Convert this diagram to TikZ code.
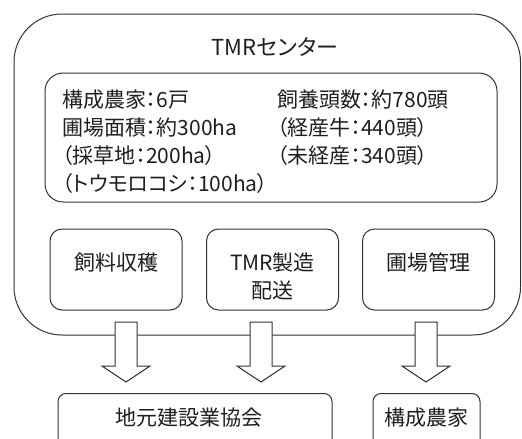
\documentclass[tikz,border=0pt]{standalone}
\usepackage{fontspec}
\setmainfont{Noto Sans CJK JP}[RawFeature=+palt]
\begin{document}
\begin{tikzpicture}[x=1pt, y=-1pt,
    frame/.style={draw=black!80, line width=1pt},
    task/.style={frame, rounded corners=12pt, minimum width=132pt, minimum height=81pt},
    goal/.style={frame, rounded corners=8pt, minimum height=70pt, anchor=north},
    txt/.style={inner sep=0pt, text=black!88, font=\fontsize{21}{28}\selectfont},
    blockarrow/.pic={\draw[frame, fill=white] (-11,0) -- (-11,44) -- (-24,44) -- (0,60)
        -- (24,44) -- (11,44) -- (11,0) -- cycle;}]
    \useasboundingbox (0,0) rectangle (522,439);
    \clip (0,0) rectangle (522,439);
    % TMR centre and its data
    \node[frame, rounded corners=48pt, minimum width=506.5pt, minimum height=321pt] (centre) at (267.25,174.5) {};
    \node[txt, font=\fontsize{22}{26}\selectfont, anchor=base] (title) at (275,55) {TMRセンター};
    \node[frame, rounded corners=18pt, minimum width=452pt, minimum height=129pt] (info) at (271,137.5) {};
    % base of a multi-line node is its last line
    \node[txt, anchor=base west, align=left] (farm) at (62,191)
        {構成農家：6戸\\圃場面積：約300ha\\（採草地：200ha）\\（トウモロコシ：100ha）};
    \node[txt, anchor=base west, align=left] (herd) at (277,163)
        {飼養頭数：約780頭\\（経産牛：440頭）\\（未経産：340頭）};
    % tasks
    \node[task] (harvest) at (116,269.5) {};
    \node[task] (mixing) at (272.5,269.5) {};
    \node[task] (field) at (428.5,269.5) {};
    \node[txt, anchor=base] (harvesttext) at (harvest.center |- 0,270) {飼料収穫};
    \node[txt, anchor=base, align=center] (mixingtext) at (mixing.center |- 0,298) {TMR製造\\配送};
    \node[txt, anchor=base] (fieldtext) at (field.center |- 0,270) {圃場管理};
    % arrows out of the centre
    \pic at (126,322) {blockarrow};
    \pic at (261,322) {blockarrow};
    \pic at (426,322) {blockarrow};
    % partners
    \node[goal, minimum width=274pt] (builders) at (195,393) {};
    \node[goal, minimum width=107pt] (members) at (426.5,393) {};
    \node[txt, anchor=base] (builderstext) at (189,425) {地元建設業協会};
    \node[txt, anchor=base] (memberstext) at (members.center |- 0,425) {構成農家};
\end{tikzpicture}
\end{document}
